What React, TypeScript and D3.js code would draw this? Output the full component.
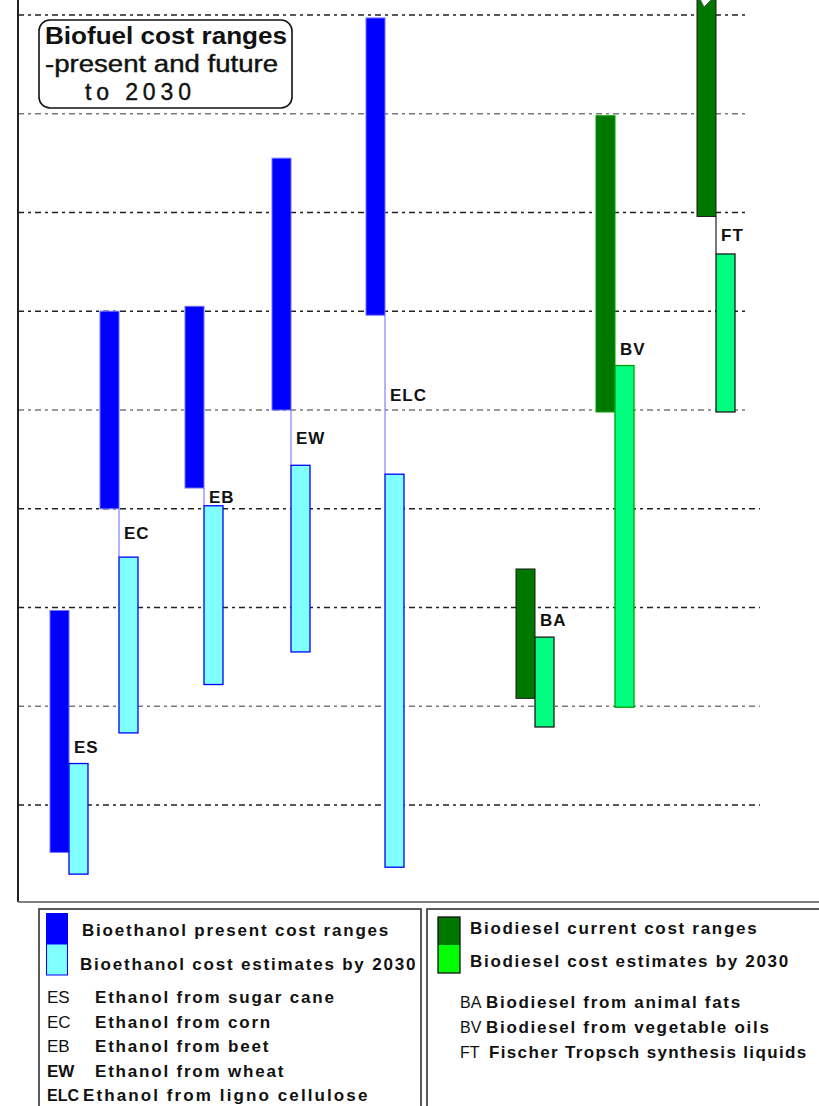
import React from "react";
import * as d3 from "d3";

// ---------- data ----------
const categories = ["ES", "EC", "EB", "EW", "ELC", "BA", "BV", "FT"];
const fuelType = ["ethanol", "ethanol", "ethanol", "ethanol", "ethanol", "diesel", "diesel", "diesel"];
// position of each category along the horizontal (category) axis, arbitrary units
const slot = [5.0, 10.0, 18.5, 27.2, 36.6, 51.6, 59.6, 69.7];
// cost ranges (gridline units)
const presentLow = [0.52, 4.0, 4.21, 5.0, 5.96, 2.08, 4.98, 6.96];
const presentHigh = [2.97, 6.0, 6.05, 7.55, 8.97, 3.39, 7.98, 9.4];
const futureLow = [0.3, 1.73, 2.22, 2.55, 0.37, 1.79, 1.99, 4.98];
const futureHigh = [1.42, 3.51, 4.03, 4.44, 4.35, 2.7, 5.45, 6.58];
const gridValues = [1, 2, 3, 4, 5, 6, 7, 8, 9];

const titleLines = ["Biofuel cost ranges", "-present and future", "to 2030"];
const ethanolLegend = ["Bioethanol present cost ranges", "Bioethanol cost estimates by 2030"];
const dieselLegend = ["Biodiesel current cost ranges", "Biodiesel cost estimates by 2030"];
const ethanolCodes = ["ES", "EC", "EB", "EW", "ELC"];
const ethanolNames = [
  "Ethanol from sugar cane",
  "Ethanol from corn",
  "Ethanol from beet",
  "Ethanol from wheat",
  "Ethanol from ligno cellulose",
];
const dieselCodes = ["BA", "BV", "FT"];
const dieselNames = [
  "Biodiesel from animal fats",
  "Biodiesel from vegetable oils",
  "Fischer Tropsch synthesis liquids",
];

// ---------- styles ----------
const FONT = "'Liberation Sans', Arial, Helvetica, sans-serif";
const COLORS = {
  ethanol: { present: "#0000ff", presentStroke: "#7070ff", future: "#80ffff", futureStroke: "#0000ff", link: "#8080ff" },
  diesel: { present: "#007800", presentStroke: "#1a1a1a", future: "#00ff80", futureStroke: "#1a1a1a", link: "#222" },
};

export default function App() {
  const W = 819;
  const H = 1106;
  const x = d3.scaleLinear().domain([0, 80]).range([19, 819]);
  const y = d3.scaleLinear().domain([0, 9]).range([903.75, 15]);
  const bw = x(1.9) - x(0);

  const axisX = 18;
  const axisBottom = 902;

  return (
    <svg
      width={W}
      height={H}
      style={{ position: "absolute", left: 0, top: 0, background: "#fff", fontFamily: FONT }}
    >
      <rect x={0} y={0} width={W} height={H} fill="#fff" />

      {/* gridlines */}
      {gridValues.map((g, i) => (
        <line
          key={"g" + g}
          x1={axisX}
          x2={g <= 4 ? 760 : 747}
          y1={y(g)}
          y2={y(g)}
          stroke={i % 3 === 1 ? "#7a7a7a" : "#222"}
          strokeWidth={1.4}
          strokeDasharray="6,4,3,4"
        />
      ))}

      {/* bars */}
      {categories.map((cat, i) => {
        const c = x(slot[i]);
        const col = COLORS[fuelType[i] as "ethanol" | "diesel"];
        const pTop = Math.max(y(presentHigh[i]), -2);
        const pBot = y(presentLow[i]);
        const fTop = y(futureHigh[i]);
        const fBot = y(futureLow[i]);
        const gap = fTop > pBot;
        const labelCenter = gap ? (pBot + fTop) / 2 : fTop - 17;
        const presentStroke = cat === "BV" ? "#00a000" : col.presentStroke;
        const futureStroke = cat === "BV" ? "#00a000" : col.futureStroke;
        return (
          <g key={cat}>
            {gap && (
              <line x1={c} x2={c} y1={pBot} y2={fTop} stroke={col.link} strokeWidth={1.2} />
            )}
            <rect
              x={c - bw}
              y={pTop}
              width={bw}
              height={pBot - pTop}
              fill={col.present}
              stroke={presentStroke}
              strokeWidth={1}
            />
            <rect
              x={c}
              y={fTop}
              width={bw}
              height={fBot - fTop}
              fill={col.future}
              stroke={futureStroke}
              strokeWidth={1.3}
            />
            {y(presentHigh[i]) < 0 && (
              <polygon
                points={`${c - bw + 3},-1 ${c - bw + 7},7 ${c - bw + 15},-1`}
                fill="#fff"
                stroke="#555"
                strokeWidth={1}
              />
            )}
            <text
              x={c + 5}
              y={labelCenter + 6}
              fontSize={17}
              fontWeight="bold"
              fill="#111"
              style={{ letterSpacing: "1px" }}
            >
              {cat}
            </text>
          </g>
        );
      })}

      {/* axes */}
      <line x1={axisX} x2={axisX} y1={0} y2={axisBottom} stroke="#222" strokeWidth={2} />
      <line x1={axisX} x2={W} y1={axisBottom} y2={axisBottom} stroke="#808080" strokeWidth={2} />

      {/* title box */}
      <rect x={39} y={20} width={253} height={88} rx={11} ry={11} fill="#fff" stroke="#111" strokeWidth={1.6} />
      <text x={45} y={44} fontSize={23} fontWeight="bold" fill="#111" textLength={242} lengthAdjust="spacingAndGlyphs">
        {titleLines[0]}
      </text>
      <text x={45} y={72} fontSize={23} fill="#111" stroke="#111" strokeWidth={0.4} textLength={233} lengthAdjust="spacingAndGlyphs">
        {titleLines[1]}
      </text>
      <text x={85} y={100} fontSize={23} fill="#111" stroke="#111" strokeWidth={0.4} textLength={106} lengthAdjust="spacing">
        {titleLines[2]}
      </text>

      {/* legend: bioethanol */}
      <rect x={39} y={909} width={382} height={210} fill="none" stroke="#333" strokeWidth={1.6} />
      <rect x={46} y={913} width={22} height={31} fill={COLORS.ethanol.present} />
      <rect x={46.5} y={944} width={21} height={31} fill={COLORS.ethanol.future} stroke="#0000ff" strokeWidth={1} />
      {ethanolLegend.map((t, i) => (
        <text
          key={t}
          x={i === 0 ? 82 : 80}
          y={936 + i * 34}
          fontSize={17}
          fontWeight="bold"
          fill="#111"
          style={{ letterSpacing: "1.8px" }}
        >
          {t}
        </text>
      ))}
      {ethanolCodes.map((code, i) => (
        <g key={code}>
          <text
            x={47}
            y={1003 + i * 24.5}
            fontSize={code.length > 2 ? 16 : 17}
            fontWeight={code.length > 2 || code === "EW" ? "bold" : "normal"}
            fill="#111"
          >
            {code}
          </text>
          <text
            x={code.length > 2 ? 83 : 95}
            y={1003 + i * 24.5}
            fontSize={17}
            fontWeight="bold"
            fill="#111"
            style={{ letterSpacing: code.length > 2 ? "2.1px" : "1.8px" }}
          >
            {ethanolNames[i]}
          </text>
        </g>
      ))}

      {/* legend: biodiesel */}
      <rect x={427} y={909} width={395} height={210} fill="none" stroke="#333" strokeWidth={1.6} />
      <rect x={438} y={917} width={22} height={28} fill={COLORS.diesel.present} />
      <rect x={438} y={945} width={22} height={28} fill="#00ff00" />
      <rect x={438} y={917} width={22} height={56} fill="none" stroke="#111" strokeWidth={1.3} />
      {dieselLegend.map((t, i) => (
        <text
          key={t}
          x={470}
          y={934 + i * 33}
          fontSize={17}
          fontWeight="bold"
          fill="#111"
          style={{ letterSpacing: "1.7px" }}
        >
          {t}
        </text>
      ))}
      {dieselCodes.map((code, i) => (
        <g key={code}>
          <text x={460} y={1008 + i * 25} fontSize={16} fill="#111">
            {code}
          </text>
          <text
            x={code === "FT" ? 489 : 486}
            y={1008 + i * 25}
            fontSize={17}
            fontWeight="bold"
            fill="#111"
            style={{ letterSpacing: code === "FT" ? "1.35px" : "1.7px" }}
          >
            {dieselNames[i]}
          </text>
        </g>
      ))}
    </svg>
  );
}
